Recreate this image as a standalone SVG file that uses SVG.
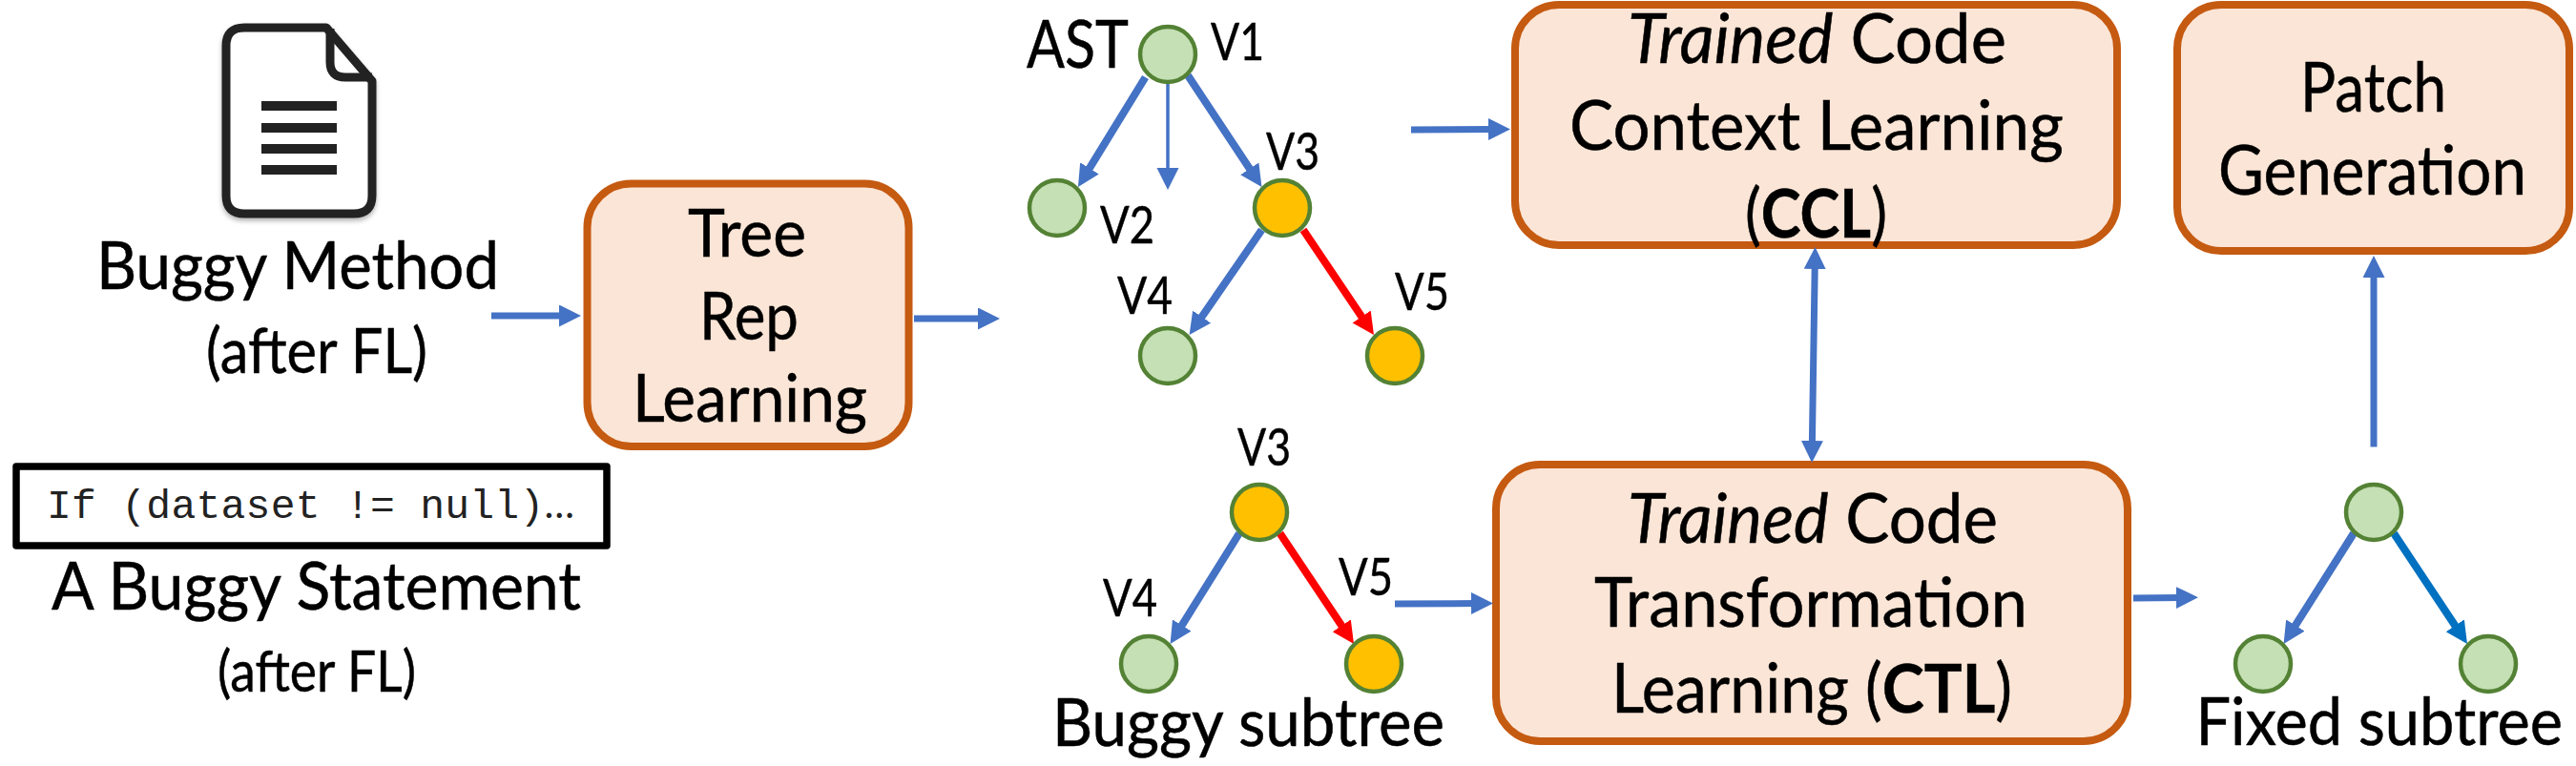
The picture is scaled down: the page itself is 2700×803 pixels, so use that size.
<svg xmlns="http://www.w3.org/2000/svg" width="2700" height="803" viewBox="0 0 2700 803">
<style>
text{font-family:"Lato","Carlito","Liberation Sans",sans-serif;fill:#000;font-size:71px;stroke:#000;stroke-width:0.5}
.small{font-size:54px}
.l{font-size:69px}
.i{font-style:italic}
.b{font-weight:700}
.box{fill:#FBE5D6;stroke:#C55A11;stroke-width:8}
.g{fill:#C5E0B4;stroke:#548235;stroke-width:4.5}
.o{fill:#FFC000;stroke:#548235;stroke-width:4.5}
.e{fill:none;stroke:#4472C4;stroke-width:7;marker-end:url(#ab)}
.t{stroke-width:8}
.r{stroke:#FF0000;marker-end:url(#ar)}
.c{stroke:#0070C0;marker-end:url(#ac)}
</style>
<defs>
<marker id="ab" markerUnits="userSpaceOnUse" markerWidth="24" markerHeight="24" refX="8" refY="11.5" orient="auto-start-reverse"><path d="M0,0L23,11.5L0,23z" fill="#4472C4"/></marker>
<marker id="ar" markerUnits="userSpaceOnUse" markerWidth="24" markerHeight="24" refX="8" refY="11.5" orient="auto"><path d="M0,0L23,11.5L0,23z" fill="#FF0000"/></marker>
<marker id="ac" markerUnits="userSpaceOnUse" markerWidth="24" markerHeight="24" refX="8" refY="11.5" orient="auto"><path d="M0,0L23,11.5L0,23z" fill="#0070C0"/></marker>
<filter id="sh" x="-10%" y="-10%" width="120%" height="120%"><feDropShadow dx="0" dy="3" stdDeviation="2.5" flood-color="#000" flood-opacity="0.3"/></filter>
</defs>

<g id="buggy-method">
<g filter="url(#sh)">
<path d="M256,29H342L390,85V205Q390,224 371,224H256Q237,224 237,205V48Q237,29 256,29Z" fill="#fff" stroke="#222" stroke-width="9" stroke-linejoin="round"/>
<path d="M346,30V65Q346,81 362,81H390" fill="none" stroke="#222" stroke-width="9"/>
<path d="M274,106h79v10h-79zM274,129h79v10h-79zM274,151h79v10h-79zM274,173h79v10h-79z" fill="#222"/>
</g>
<text class="l" x="101" y="303" textLength="422" lengthAdjust="spacingAndGlyphs">Buggy Method</text>
<text x="216" y="390.5" style="font-size:66px" textLength="232" lengthAdjust="spacingAndGlyphs">(after FL)</text>
</g>

<g id="buggy-statement">
<rect x="17" y="489" width="619" height="83" fill="#fff" stroke="#000" stroke-width="7.5" stroke-linejoin="round"/>
<text x="49" y="543" style="font-family:'Liberation Mono',monospace;font-size:43px;fill:#222;stroke:none" textLength="553" lengthAdjust="spacing">If (dataset != null)<tspan style="font-family:'Lato',sans-serif;font-size:42px">…</tspan></text>
<text class="l" x="54" y="639" textLength="555" lengthAdjust="spacingAndGlyphs">A Buggy Statement</text>
<text x="228" y="725" style="font-size:60px" textLength="208" lengthAdjust="spacingAndGlyphs">(after FL)</text>
</g>

<g id="tree-rep-learning">
<rect class="box" x="615.5" y="192.5" width="337" height="275.5" rx="46"/>
<text class="l" x="721" y="269" textLength="124" lengthAdjust="spacingAndGlyphs">Tree</text>
<text class="l" x="733" y="356" textLength="104" lengthAdjust="spacingAndGlyphs">Rep</text>
<text class="l" x="663" y="442" textLength="246" lengthAdjust="spacingAndGlyphs">Learning</text>
</g>

<g id="ccl">
<rect class="box" x="1588" y="5" width="631" height="252" rx="46"/>
<text x="1706" y="66" textLength="397" lengthAdjust="spacingAndGlyphs"><tspan class="i">Trained</tspan> Code</text>
<text x="1645" y="157" textLength="518" lengthAdjust="spacingAndGlyphs">Context Learning</text>
<text x="1829" y="249" textLength="149" lengthAdjust="spacingAndGlyphs">(<tspan class="b">CCL</tspan>)</text>
</g>

<g id="ctl">
<rect class="box" x="1568" y="487" width="662" height="290" rx="46"/>
<text x="1706" y="569" textLength="388" lengthAdjust="spacingAndGlyphs"><tspan class="i">Trained</tspan> Code</text>
<text x="1671" y="657" textLength="454" lengthAdjust="spacingAndGlyphs">Transformation</text>
<text x="1689" y="747" textLength="420" lengthAdjust="spacingAndGlyphs">Learning (<tspan class="b">CTL</tspan>)</text>
</g>

<g id="patch-generation">
<rect class="box" x="2282" y="5" width="411" height="258" rx="46"/>
<text x="2411" y="117" textLength="153" lengthAdjust="spacingAndGlyphs">Patch</text>
<text x="2325" y="204" textLength="323" lengthAdjust="spacingAndGlyphs">Generation</text>
</g>

<g id="connectors">
<path class="e" d="M515,331H594"/>
<path class="e" d="M958,334H1033"/>
<path class="e" d="M1479,136L1568,135.5"/>
<path class="e" d="M1462,633L1550,632.5"/>
<path class="e" d="M2236,627L2289,626.5"/>
<path class="e" d="M2488,468.5V283"/>
<path class="e" d="M1902.3,274L1899.3,470" style="marker-start:url(#ab)"/>
<path class="e t" d="M1200.5,81L1137.8,183.2"/>
<path class="e" style="stroke-width:3.5" d="M1224,88V184"/>
<path class="e t" d="M1245,79L1314.2,183.5"/>
<path class="e t" d="M1322.5,241L1255.1,338.7"/>
<path class="e t r" d="M1366,241L1431.6,338.6"/>
<path class="e t" d="M1299,559L1234.5,662.3"/>
<path class="e t r" d="M1341.5,559L1410.7,662.5"/>
<path class="e t" d="M2467,559L2401.6,662.3"/>
<path class="e t c" d="M2509,559L2577.7,662.5"/>
</g>

<g id="ast-label"><text class="l" x="1076" y="71" textLength="107" lengthAdjust="spacingAndGlyphs">AST</text></g>
<g id="ast-v1"><circle class="g" cx="1224" cy="57" r="29"/><text class="small" x="1269" y="63" textLength="56" lengthAdjust="spacingAndGlyphs">V1</text></g>
<g id="ast-v2"><circle class="g" cx="1108" cy="218" r="29"/><text class="small" x="1153" y="255" textLength="57" lengthAdjust="spacingAndGlyphs">V2</text></g>
<g id="ast-v3"><circle class="o" cx="1344" cy="218" r="29"/><text class="small" x="1327" y="178" textLength="56" lengthAdjust="spacingAndGlyphs">V3</text></g>
<g id="ast-v4"><circle class="g" cx="1224" cy="373" r="29"/><text class="small" x="1171" y="329" textLength="58" lengthAdjust="spacingAndGlyphs">V4</text></g>
<g id="ast-v5"><circle class="o" cx="1462" cy="373" r="29"/><text class="small" x="1462" y="325" textLength="57" lengthAdjust="spacingAndGlyphs">V5</text></g>

<g id="sub-v3"><circle class="o" cx="1320" cy="537" r="29"/><text class="small" x="1297" y="488" textLength="56" lengthAdjust="spacingAndGlyphs">V3</text></g>
<g id="sub-v4"><circle class="g" cx="1204" cy="696" r="29"/><text class="small" x="1156" y="646" textLength="57" lengthAdjust="spacingAndGlyphs">V4</text></g>
<g id="sub-v5"><circle class="o" cx="1440" cy="696" r="29"/><text class="small" x="1403" y="624" textLength="57" lengthAdjust="spacingAndGlyphs">V5</text></g>
<g id="buggy-subtree-label"><text class="l" x="1103" y="782" textLength="411" lengthAdjust="spacingAndGlyphs">Buggy subtree</text></g>

<g id="fixed-root"><circle class="g" cx="2488" cy="537" r="29"/></g>
<g id="fixed-left"><circle class="g" cx="2372" cy="696" r="29"/></g>
<g id="fixed-right"><circle class="g" cx="2608" cy="696" r="29"/></g>
<g id="fixed-subtree-label"><text class="l" x="2301.5" y="781" textLength="384.5" lengthAdjust="spacingAndGlyphs">Fixed subtree</text></g>
</svg>
